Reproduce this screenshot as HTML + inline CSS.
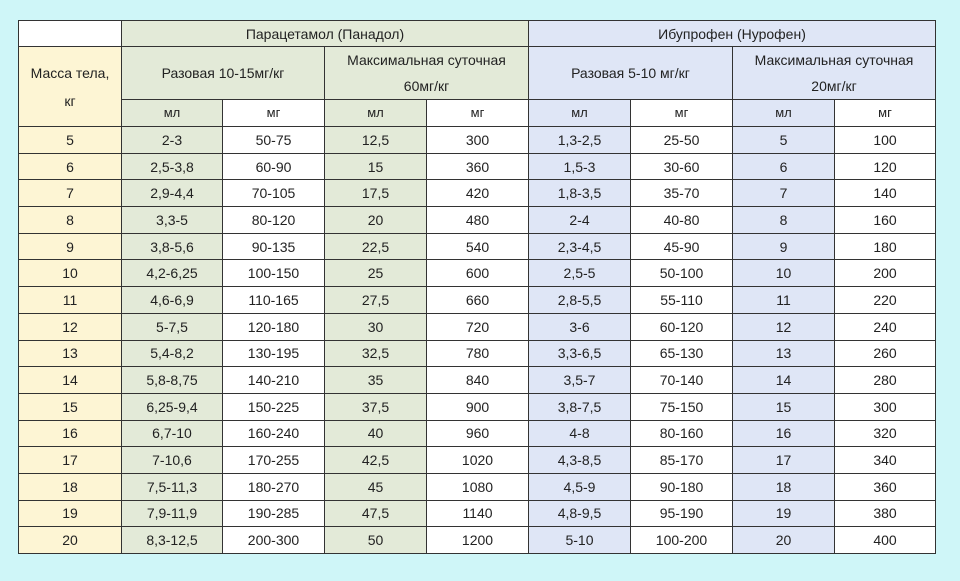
<!DOCTYPE html>
<html><head><meta charset="utf-8"><style>
html,body{margin:0;padding:0;width:960px;height:581px;background:#cff6f8;overflow:hidden}
table{position:absolute;left:18px;top:20px;border-collapse:collapse;table-layout:fixed;font-family:"Liberation Sans","DejaVu Sans",sans-serif;font-size:14px;color:#222}
td{border:1px solid #333;text-align:center;padding:0;height:25.7px;line-height:16px}
.y{background:#fdf5d4}.g{background:#e3ead8}.b{background:#dfe6f6}.w{background:#fff}
tr.h1 td{height:25px}tr.h2 td{height:52px;line-height:26px}tr.h3 td{height:26px;font-size:13px}
</style></head><body>
<table>
<colgroup><col style="width:103px"><col style="width:101px"><col style="width:102px"><col style="width:102px"><col style="width:102px"><col style="width:102px"><col style="width:102px"><col style="width:102px"><col style="width:101px"></colgroup>
<tr class="h1"><td class="w"></td><td class="g" colspan="4">Парацетамол (Панадол)</td><td class="b" colspan="4">Ибупрофен (Нурофен)</td></tr>
<tr class="h2"><td class="y" rowspan="2" style="line-height:28px">Масса тела,<br>кг</td><td class="g" colspan="2">Разовая 10-15мг/кг</td><td class="g" colspan="2">Максимальная суточная<br>60мг/кг</td><td class="b" colspan="2">Разовая 5-10 мг/кг</td><td class="b" colspan="2">Максимальная суточная<br>20мг/кг</td></tr>
<tr class="h3"><td class="g">мл</td><td class="w">мг</td><td class="g">мл</td><td class="w">мг</td><td class="b">мл</td><td class="w">мг</td><td class="b">мл</td><td class="w">мг</td></tr>
<tr><td class="y">5</td><td class="g">2-3</td><td class="w">50-75</td><td class="g">12,5</td><td class="w">300</td><td class="b">1,3-2,5</td><td class="w">25-50</td><td class="b">5</td><td class="w">100</td></tr>
<tr><td class="y">6</td><td class="g">2,5-3,8</td><td class="w">60-90</td><td class="g">15</td><td class="w">360</td><td class="b">1,5-3</td><td class="w">30-60</td><td class="b">6</td><td class="w">120</td></tr>
<tr><td class="y">7</td><td class="g">2,9-4,4</td><td class="w">70-105</td><td class="g">17,5</td><td class="w">420</td><td class="b">1,8-3,5</td><td class="w">35-70</td><td class="b">7</td><td class="w">140</td></tr>
<tr><td class="y">8</td><td class="g">3,3-5</td><td class="w">80-120</td><td class="g">20</td><td class="w">480</td><td class="b">2-4</td><td class="w">40-80</td><td class="b">8</td><td class="w">160</td></tr>
<tr><td class="y">9</td><td class="g">3,8-5,6</td><td class="w">90-135</td><td class="g">22,5</td><td class="w">540</td><td class="b">2,3-4,5</td><td class="w">45-90</td><td class="b">9</td><td class="w">180</td></tr>
<tr><td class="y">10</td><td class="g">4,2-6,25</td><td class="w">100-150</td><td class="g">25</td><td class="w">600</td><td class="b">2,5-5</td><td class="w">50-100</td><td class="b">10</td><td class="w">200</td></tr>
<tr><td class="y">11</td><td class="g">4,6-6,9</td><td class="w">110-165</td><td class="g">27,5</td><td class="w">660</td><td class="b">2,8-5,5</td><td class="w">55-110</td><td class="b">11</td><td class="w">220</td></tr>
<tr><td class="y">12</td><td class="g">5-7,5</td><td class="w">120-180</td><td class="g">30</td><td class="w">720</td><td class="b">3-6</td><td class="w">60-120</td><td class="b">12</td><td class="w">240</td></tr>
<tr><td class="y">13</td><td class="g">5,4-8,2</td><td class="w">130-195</td><td class="g">32,5</td><td class="w">780</td><td class="b">3,3-6,5</td><td class="w">65-130</td><td class="b">13</td><td class="w">260</td></tr>
<tr><td class="y">14</td><td class="g">5,8-8,75</td><td class="w">140-210</td><td class="g">35</td><td class="w">840</td><td class="b">3,5-7</td><td class="w">70-140</td><td class="b">14</td><td class="w">280</td></tr>
<tr><td class="y">15</td><td class="g">6,25-9,4</td><td class="w">150-225</td><td class="g">37,5</td><td class="w">900</td><td class="b">3,8-7,5</td><td class="w">75-150</td><td class="b">15</td><td class="w">300</td></tr>
<tr><td class="y">16</td><td class="g">6,7-10</td><td class="w">160-240</td><td class="g">40</td><td class="w">960</td><td class="b">4-8</td><td class="w">80-160</td><td class="b">16</td><td class="w">320</td></tr>
<tr><td class="y">17</td><td class="g">7-10,6</td><td class="w">170-255</td><td class="g">42,5</td><td class="w">1020</td><td class="b">4,3-8,5</td><td class="w">85-170</td><td class="b">17</td><td class="w">340</td></tr>
<tr><td class="y">18</td><td class="g">7,5-11,3</td><td class="w">180-270</td><td class="g">45</td><td class="w">1080</td><td class="b">4,5-9</td><td class="w">90-180</td><td class="b">18</td><td class="w">360</td></tr>
<tr><td class="y">19</td><td class="g">7,9-11,9</td><td class="w">190-285</td><td class="g">47,5</td><td class="w">1140</td><td class="b">4,8-9,5</td><td class="w">95-190</td><td class="b">19</td><td class="w">380</td></tr>
<tr><td class="y">20</td><td class="g">8,3-12,5</td><td class="w">200-300</td><td class="g">50</td><td class="w">1200</td><td class="b">5-10</td><td class="w">100-200</td><td class="b">20</td><td class="w">400</td></tr>
</table>
</body></html>
